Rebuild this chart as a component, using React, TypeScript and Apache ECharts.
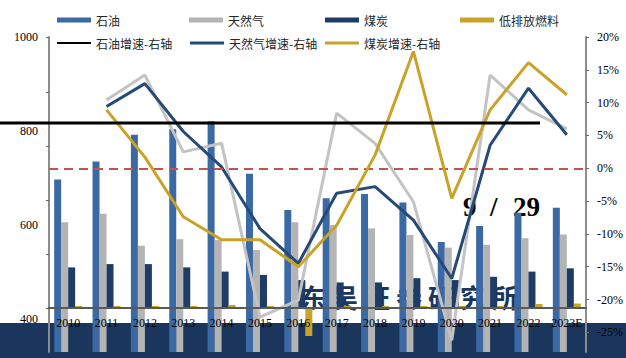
import React, { useEffect, useRef } from 'react';
import * as echarts from 'echarts';

const years = ['2010', '2011', '2012', '2013', '2014', '2015', '2016', '2017', '2018', '2019', '2020', '2021', '2022', '2023E'];
const oil = [697, 735, 792, 804, 821, 709, 632, 657, 666, 648, 564, 598, 626, 637];
const gas = [606, 624, 556, 570, 568, 547, 606, 600, 593, 579, 552, 558, 572, 580];
const coal = [510, 517, 517, 510, 501, 494, 483, 478, 478, 487, 483, 490, 501, 508];
const lowEmission = [428, 428, 428, 428, 430, 428, 364, 428, 428, 428, 428, 428, 432, 433];
const oilGrowth = [null, 10.4, 14.2, 2.5, 3.8, -22.7, -20.1, 8.4, 3.8, -5.1, -26.2, 14.2, 8.9, 6.0];
const gasGrowth = [null, 9.4, 12.9, 5.6, 0.2, -9.2, -14.5, -3.8, -2.8, -7.9, -16.8, 3.5, 12.2, 5.1];
const coalGrowth = [null, 8.9, 1.7, -7.4, -10.9, -10.9, -15.0, -8.7, 2.0, 17.8, -4.6, 8.9, 16.1, 11.2];
const leftLabels = [400, 600, 800, 1000];
const leftTicks = [424, 538, 653, 768, 883, 1000];
const rightLabels = [-25, -20, -15, -10, -5, 0, 5, 10, 15, 20];
const refLineValue = 6.9;
const zeroLineValue = 0;
const barBase = 423.6;
const watermark = ['东', '吴', '证', '券', '研', '究', '所'];

const serif = 'Liberation Serif';
const cjk = 'Noto Sans CJK SC';

export default function App() {
  const ref = useRef<HTMLDivElement>(null);
  useEffect(() => {
    const chart = echarts.init(ref.current!, null, { renderer: 'svg' });
    const legendBase = {
      itemWidth: 34,
      itemHeight: 5,
      icon: 'rect',
      selectedMode: false,
      padding: 0,
      textStyle: { fontFamily: cjk, fontSize: 12, color: '#262626' },
    };
    const option: any = {
      animation: false,
      backgroundColor: '#ffffff',
      grid: { left: 49, right: 36, top: 37, bottom: 6 },
      legend: [
        { ...legendBase, left: 57, top: 14, data: ['石油'] },
        { ...legendBase, left: 189, top: 14, data: ['天然气'] },
        { ...legendBase, left: 325, top: 14, data: ['煤炭'] },
        { ...legendBase, left: 460, top: 14, data: ['低排放燃料'] },
        { ...legendBase, left: 57, top: 37, itemHeight: 2, data: [{ name: '石油增速-右轴', itemStyle: { color: '#000000' } }] },
        { ...legendBase, left: 190, top: 37, itemHeight: 3, data: ['天然气增速-右轴'] },
        { ...legendBase, left: 325, top: 37, itemHeight: 3, data: ['煤炭增速-右轴'] },
      ],
      xAxis: {
        type: 'category',
        data: years,
        offset: -44,
        z: 8,
        axisLine: { onZero: false, lineStyle: { color: '#595959', width: 2 } },
        axisTick: { length: 3, lineStyle: { color: '#595959' } },
        axisLabel: { interval: 0, fontFamily: serif, fontSize: 12, color: '#000', margin: 9 },
      },
      yAxis: [
        {
          type: 'value',
          position: 'left',
          min: 330,
          max: 1000,
          axisLine: { show: true, lineStyle: { color: '#8c8c8c', width: 2 } },
          axisTick: { show: true, customValues: leftTicks, length: 3, lineStyle: { color: '#666' } },
          axisLabel: { customValues: leftLabels, formatter: (v: number) => String(v), fontFamily: serif, fontSize: 12, color: '#000', margin: 11 },
          splitLine: { show: false },
        },
        {
          type: 'value',
          position: 'right',
          min: -28,
          max: 20,
          axisLine: { show: true, lineStyle: { color: '#8c8c8c', width: 2 } },
          axisTick: { show: true, customValues: rightLabels, length: 3, lineStyle: { color: '#666' } },
          axisLabel: { customValues: rightLabels, formatter: '{value}%', fontFamily: serif, fontSize: 12, color: '#000', margin: 11 },
          splitLine: { show: false },
        },
        {
          type: 'value',
          show: false,
          min: 330,
          max: 1000,
          startValue: barBase,
          splitLine: { show: false },
        },
      ],
      series: [
        { name: '石油', type: 'bar', yAxisIndex: 0, data: oil, barWidth: 7, barGap: '0%', itemStyle: { color: '#3b69a3' } },
        { name: '天然气', type: 'bar', yAxisIndex: 0, data: gas, barWidth: 7, barGap: '0%', itemStyle: { color: '#b4b4b4' } },
        { name: '煤炭', type: 'bar', yAxisIndex: 2, data: coal, barWidth: 7, barGap: '0%', itemStyle: { color: '#1f3c66' } },
        { name: '低排放燃料', type: 'bar', yAxisIndex: 2, data: lowEmission, barWidth: 7, barGap: '0%', itemStyle: { color: '#c9a227' } },
        {
          name: '石油增速-右轴', type: 'line', yAxisIndex: 1, data: oilGrowth, showSymbol: false,
          lineStyle: { color: '#c3c3c3', width: 3 }, itemStyle: { color: '#c3c3c3' }, z: 3,
        },
        {
          name: '天然气增速-右轴', type: 'line', yAxisIndex: 1, data: gasGrowth, showSymbol: false,
          lineStyle: { color: '#264a77', width: 3 }, itemStyle: { color: '#264a77' }, z: 4,
          markLine: {
            silent: true, symbol: 'none', label: { show: false },
            lineStyle: { color: '#c8504d', type: [9, 6], width: 2 },
            data: [{ yAxis: zeroLineValue }],
          },
        },
        {
          name: '煤炭增速-右轴', type: 'line', yAxisIndex: 1, data: coalGrowth, showSymbol: false,
          lineStyle: { color: '#c9a227', width: 3 }, itemStyle: { color: '#c9a227' }, z: 5,
        },
      ],
    };
    chart.setOption(option);
    const yRef = chart.convertToPixel({ yAxisIndex: 1 }, refLineValue) as number;
    const graphics: any[] = [
      { type: 'rect', z: -1, silent: true, shape: { x: 0, y: 323, width: 626, height: 35 }, style: { fill: '#1b365d' } },
      ...watermark.map((ch, i) => ({
        type: 'text', z: 1, silent: true, x: 313 + i * 32, y: 296,
        style: { text: ch, fill: '#1b365d', fontFamily: cjk, fontSize: 26, fontWeight: 'bold', align: 'center', verticalAlign: 'middle' },
      })),
      { type: 'text', z: 1, silent: true, x: 463, y: 207, style: { text: '9  /', fill: '#000', fontFamily: serif, fontSize: 27, fontWeight: 'bold', verticalAlign: 'middle' } },
      { type: 'text', z: 1, silent: true, x: 513, y: 207, style: { text: '29', fill: '#000', fontFamily: serif, fontSize: 27, fontWeight: 'bold', verticalAlign: 'middle' } },
      { type: 'line', z: 10, silent: true, shape: { x1: 0, y1: yRef, x2: 540, y2: yRef }, style: { stroke: '#000', lineWidth: 3 } },
    ];
    chart.setOption({ graphic: graphics });
    return () => chart.dispose();
  }, []);
  return <div ref={ref} style={{ position: 'fixed', left: 0, top: 0, width: 626, height: 358 }} />;
}
